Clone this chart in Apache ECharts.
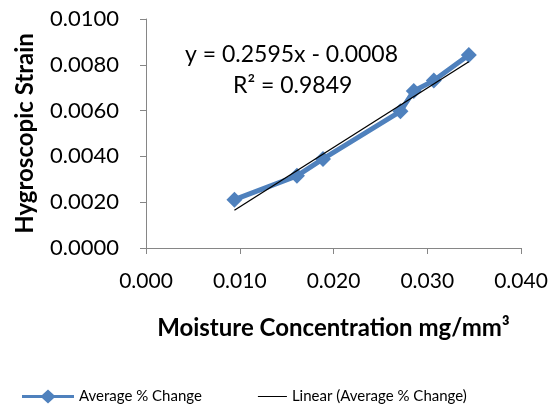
<!DOCTYPE html>
<html>
<head>
<meta charset="utf-8">
<title>Hygroscopic Strain</title>
<script src="https://cdn.jsdelivr.net/npm/echarts@6/dist/echarts.min.js"></script>
<style>
  html, body { margin: 0; padding: 0; background: #fff; }
  #main { width: 553px; height: 406px; }
</style>
</head>
<body>
<div id="main"></div>
<script>
// data
var moisture = [0.00943, 0.0161, 0.01888, 0.02714, 0.02856, 0.0307, 0.03443];
var strain = [0.00211, 0.00315, 0.00389, 0.00597, 0.00686, 0.00731, 0.00843];
var slope = 0.2595;
var intercept = -0.0008;
var xTicks = [0, 0.01, 0.02, 0.03, 0.04];
var yTicks = [0, 0.002, 0.004, 0.006, 0.008, 0.01];

var points = moisture.map(function (x, i) { return [x, strain[i]]; });
var x0 = moisture[0], x1 = moisture[moisture.length - 1];
var trend = [[x0, slope * x0 + intercept], [x1, slope * x1 + intercept]];

var font = 'Lato, "Open Sans", sans-serif';
var axisGray = '#868686';

var chart = echarts.init(document.getElementById('main'));
chart.setOption({
  animation: false,
  textStyle: { fontFamily: font },
  grid: { left: 146, right: 32, top: 19, bottom: 158, containLabel: false },
  xAxis: {
    type: 'value',
    min: xTicks[0], max: xTicks[xTicks.length - 1], interval: 0.01,
    name: 'Moisture Concentration mg/mm³',
    nameLocation: 'middle', nameGap: 68,
    nameTextStyle: { fontSize: 24, fontWeight: 'bold', color: '#000', fontFamily: font },
    axisLine: { lineStyle: { color: axisGray } },
    axisTick: { show: true, length: 6, lineStyle: { color: axisGray } },
    splitLine: { show: false },
    axisLabel: { fontSize: 21, color: '#000', margin: 23, fontFamily: font,
      formatter: function (v) { return v.toFixed(3); } }
  },
  yAxis: {
    type: 'value',
    min: yTicks[0], max: yTicks[yTicks.length - 1], interval: 0.002,
    name: 'Hygroscopic Strain',
    nameLocation: 'middle', nameGap: 109,
    nameTextStyle: { fontSize: 24, fontWeight: 'bold', color: '#000', fontFamily: font },
    axisLine: { show: true, lineStyle: { color: axisGray } },
    axisTick: { show: true, length: 6, lineStyle: { color: axisGray } },
    splitLine: { show: false },
    axisLabel: { fontSize: 22, color: '#000', margin: 27, fontFamily: font,
      formatter: function (v) { return v.toFixed(4); } }
  },
  legend: {
    top: 384, left: 17, itemGap: 33, itemWidth: 52, itemHeight: 14,
    textStyle: { fontSize: 15, color: '#000', fontFamily: font },
    data: [
      { name: 'Average % Change', icon: 'path://M0,5.5 L20,5.5 L26,0 L32,5.5 L52,5.5 L52,8.5 L32,8.5 L26,14 L20,8.5 L0,8.5 Z' },
      { name: 'Linear (Average % Change)', icon: 'path://M0,0 Z M52,14 Z M23,6.4 L52,6.4 L52,7.6 L23,7.6 Z' }
    ]
  },
  graphic: [
    { type: 'text', left: 185, top: 43,
      style: { text: 'y = 0.2595x - 0.0008', fontSize: 23, fill: '#000', fontFamily: font } },
    { type: 'text', left: 233, top: 74,
      style: { text: 'R² = 0.9849', fontSize: 23, fill: '#000', fontFamily: font } }
  ],
  series: [
    {
      name: 'Average % Change',
      type: 'line',
      data: points,
      symbol: 'diamond',
      symbolSize: 16,
      itemStyle: { color: '#4F81BD' },
      lineStyle: { color: '#4F81BD', width: 5 },
      z: 2
    },
    {
      name: 'Linear (Average % Change)',
      type: 'line',
      data: trend,
      symbol: 'none',
      itemStyle: { color: '#000' },
      lineStyle: { color: '#000', width: 1.3 },
      z: 3
    }
  ]
});
</script>
</body>
</html>
